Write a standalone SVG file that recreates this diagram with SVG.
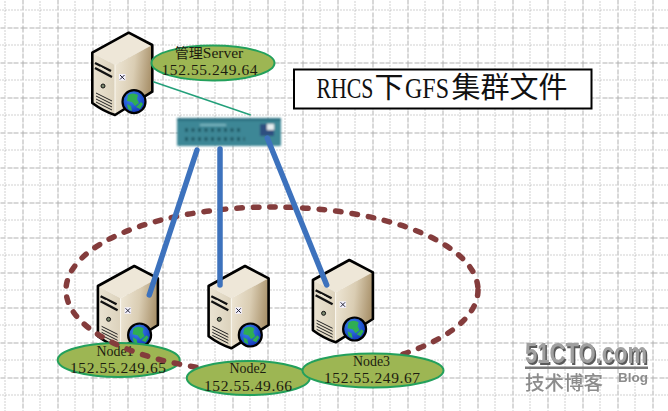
<svg xmlns="http://www.w3.org/2000/svg" width="668" height="411" viewBox="0 0 668 411">
<style>
.lbl{fill:#9db653;stroke:#23a05c;stroke-width:2}
.t{font-family:"Liberation Serif","Noto Sans CJK SC",serif;font-size:15.500px;fill:#1c1c10}
.cn{font-family:"Noto Sans CJK SC","Liberation Serif",serif}
.wire{stroke:#3d72bd;stroke-width:5.500;fill:none;stroke-linecap:round}
.wm{font-family:"Liberation Sans","Noto Sans CJK SC",sans-serif;font-weight:bold;fill:#8c8c8c}
</style>
<defs>
<pattern id="grid" x="22.500" y="27.500" width="35" height="35" patternUnits="userSpaceOnUse">
<path d="M0 0V35M0 0H35" fill="none" stroke="#b0b0b0" stroke-width="1" stroke-dasharray="5 1.500" shape-rendering="crispEdges"/>
<path d="M17.500 0V35M0 17.500H35" fill="none" stroke="#a4a4a4" stroke-width="1" stroke-dasharray="1 2" shape-rendering="crispEdges"/>
</pattern>
<linearGradient id="side" x1="0" y1="0" x2="1" y2="0.2">
<stop offset="0" stop-color="#efe8d8"/><stop offset="0.55" stop-color="#dacdb3"/><stop offset="1" stop-color="#ab946e"/>
</linearGradient>
<linearGradient id="front" x1="0" y1="0" x2="1" y2="0">
<stop offset="0" stop-color="#ebe4d3"/><stop offset="1" stop-color="#dcd2bc"/>
</linearGradient>
<radialGradient id="earth" cx="0.4" cy="0.35" r="0.7">
<stop offset="0" stop-color="#3c8cf0"/><stop offset="1" stop-color="#1030b8"/>
</radialGradient>
<filter id="blur" x="-5%" y="-15%" width="110%" height="130%"><feGaussianBlur stdDeviation="0.800"/></filter>
<filter id="soft" x="-5%" y="-15%" width="110%" height="130%"><feGaussianBlur stdDeviation="0.400"/></filter>
<g id="server">
<path d="M128.700 32.700L152.300 45L115 65L92.300 52.700Z" fill="#eee7d8"/>
<path d="M115 65L152.300 45V91.700L115 115Z" fill="url(#side)"/>
<path d="M92.300 52.700L115 65V115L92.300 103Z" fill="url(#front)"/>
<path d="M115 65V115" stroke="#fbf8f0" stroke-width="1"/>
<path d="M128.700 32.700L152.300 45V91.700L115 115Q103 111 92.300 103V52.700Z" fill="none" stroke="#000" stroke-width="2.600" stroke-linejoin="round"/>
<path d="M95 63L111 71M95 68L112 77" stroke="#111" stroke-width="2.400" fill="none"/>
<path d="M100 67L108 72" stroke="#eee8d8" stroke-width="1.200" fill="none"/>
<circle cx="103" cy="86" r="2" fill="#7c8a70" stroke="#111" stroke-width="1"/>
<path d="M96 93L112 101M96 96L112 104M96 99L112 107M96 102L112 110" stroke="#222" stroke-width="1" fill="none"/>
<rect x="119" y="74" width="6.500" height="6.500" fill="#f4f2ff"/>
<path d="M120 75L124.500 79.500M124.500 75L120 79.500" stroke="#223" stroke-width="1"/>
<circle cx="134" cy="101.700" r="11.500" fill="url(#earth)" stroke="#000" stroke-width="2.200"/>
<path d="M128 95Q133 92 138 95L137 99L139 103L135 106L132 102L127 101Z" fill="#2fae52"/>
<path d="M136 107L141 102L143 104L140 109Z" fill="#2fae52"/>
<path d="M127 104L131 106L132 111L128 109Z" fill="#2fae52"/>
</g>
</defs>
<rect width="668" height="411" fill="#fff"/>
<rect width="668" height="411" fill="url(#grid)"/>

<g id="mgmt-server">
<use href="#server"/>
<ellipse class="lbl" cx="213" cy="63" rx="61.500" ry="17.500"/>
<text class="t" x="209" y="58" text-anchor="middle"><tspan class="cn" font-size="14">管理</tspan>Server</text>
<text class="t" x="209.500" y="75" text-anchor="middle" textLength="96" lengthAdjust="spacing">152.55.249.64</text>
</g>

<g id="node1">
<use href="#server" x="5.600" y="233.300"/>
<ellipse class="lbl" cx="118.700" cy="360" rx="61" ry="17"/>
<text class="t" x="115" y="356" text-anchor="middle" textLength="37" lengthAdjust="spacingAndGlyphs">Node1</text>
<text class="t" x="118" y="373" text-anchor="middle" textLength="96" lengthAdjust="spacing">152.55.249.65</text>
</g>

<g id="cluster-ring">
<ellipse cx="272" cy="290" rx="206" ry="83" fill="none" stroke="#843c3c" stroke-width="5.500" stroke-linecap="round" stroke-dasharray="5.500 11"/>
</g>

<g id="node2">
<use href="#server" x="116.300" y="233.300"/>
<ellipse class="lbl" cx="248.300" cy="378" rx="61.500" ry="17"/>
<text class="t" x="248" y="373" text-anchor="middle" textLength="37" lengthAdjust="spacingAndGlyphs">Node2</text>
<text class="t" x="248" y="391" text-anchor="middle" textLength="88" lengthAdjust="spacing">152.55.49.66</text>
</g>

<g id="node3">
<use href="#server" x="220.600" y="227.300"/>
<ellipse class="lbl" cx="373" cy="370.500" rx="70.500" ry="17"/>
<text class="t" x="371.500" y="366" text-anchor="middle" textLength="37" lengthAdjust="spacingAndGlyphs">Node3</text>
<text class="t" x="372" y="383" text-anchor="middle" textLength="96" lengthAdjust="spacing">152.55.249.67</text>
</g>

<g id="switch">
<g filter="url(#blur)">
<rect x="177" y="118" width="104" height="28" rx="1" fill="#3d8796"/>
<rect x="177" y="118" width="104" height="3" fill="#2c6f80"/>
<path d="M185 130H243M185 139H245" stroke="#1f5560" stroke-width="3.500" stroke-dasharray="3 3.500" fill="none"/>
<path d="M200 125H226" stroke="#8fc4cc" stroke-width="1.500"/>
<rect x="260" y="124" width="14" height="12" fill="#2f4f80"/>
<rect x="267" y="124" width="7" height="6" fill="#e6eef0"/>
</g>
</g>

<g id="connectors">
<path d="M153.300 81.700L250.700 115" fill="none" stroke="#23a07a" stroke-width="1.500"/>
<path class="wire" d="M197 150L149.300 295"/>
<path class="wire" d="M220 149V285"/>
<path class="wire" d="M267.300 138L326.700 285"/>
</g>

<g id="title">
<rect x="294" y="69.500" width="297.500" height="39" fill="#fff" stroke="#000" stroke-width="2"/>
<text y="98" font-size="29" fill="#111" font-family="'Liberation Serif','Noto Sans CJK SC',serif"><tspan x="316.500" textLength="57" lengthAdjust="spacingAndGlyphs">RHCS</tspan><tspan class="cn" x="374.500">下</tspan><tspan x="405" textLength="44" lengthAdjust="spacingAndGlyphs">GFS</tspan><tspan class="cn" x="451.500">集群文件</tspan></text>
</g>

<g id="watermark" filter="url(#soft)">
<text class="wm" transform="translate(526.500 364.500) scale(1 1.300)" font-size="22" style="fill:#5a5a5a" textLength="122" lengthAdjust="spacingAndGlyphs">51CTO.com</text>
<text class="wm" transform="translate(525 363) scale(1 1.300)" font-size="22" style="fill:#a0a0a0" textLength="122" lengthAdjust="spacingAndGlyphs">51CTO.com</text>
<rect x="525" y="366.500" width="123" height="2.500" fill="#777"/>
<text class="wm cn" x="525" y="390" font-size="19.500" style="font-weight:500">技术博客</text>
<text class="wm" x="618" y="382" font-size="12.500" textLength="30" lengthAdjust="spacingAndGlyphs">Blog</text>
</g>
</svg>
